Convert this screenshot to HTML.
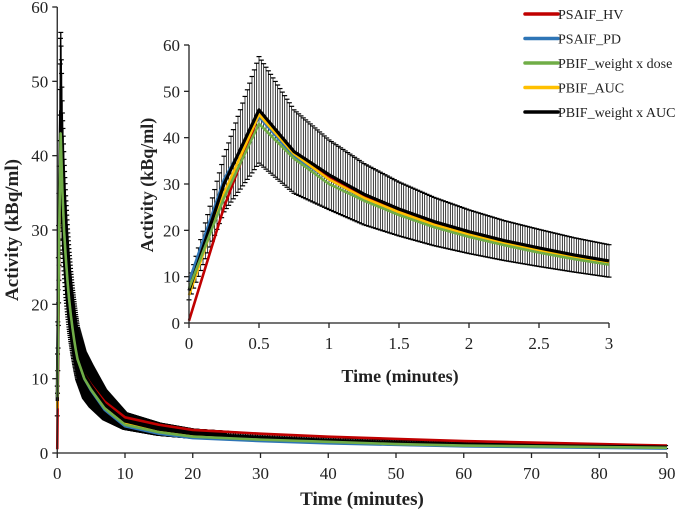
<!DOCTYPE html>
<html><head><meta charset="utf-8"><style>
html,body{margin:0;padding:0;background:#fff;}
svg text{font-family:"Liberation Serif",serif;fill:#222;}
</style></head><body>
<svg id="c" width="685" height="513" viewBox="0 0 685 513" xmlns="http://www.w3.org/2000/svg"></svg>
<script>
// ---- data ----
const mainTimes = [0,0.25,0.5,0.75,1,1.25,1.5,1.75,2,2.25,2.5,2.75,3,4,5,7,10,15,20,30,40,50,60,70,80,90];
const mainBlack = [7,30,46,37,32,27.8,24.6,21.9,19.7,17.8,16.2,14.7,13.4,10.5,9,6.5,4.3,3.2,2.6,2.1,1.7,1.4,1.2,1.0,0.9,0.8];
const mainRed   = [0.5,25,45,36.7,31.6,27.4,24.2,21.5,19.4,17.6,16,14.5,13.2,10.6,9.2,6.9,4.8,3.8,3.1,2.6,2.2,1.9,1.6,1.4,1.2,1.0];
const mainBlue  = [9,31,44.5,36,31,26.9,23.7,21,18.9,17,15.5,14,12.8,10,8.4,5.8,3.6,2.6,2.0,1.6,1.3,1.1,0.9,0.8,0.7,0.6];
const mainGreen = [7.5,27,43,35.5,30,26.4,23.3,20.7,18.6,16.8,15.2,13.8,12.6,10,8.5,6,3.8,2.8,2.2,1.8,1.5,1.2,1.0,0.9,0.8,0.7];
const mainYellow= [6,28,45,36.5,31,27,23.9,21.2,19.1,17.3,15.7,14.3,13,10.2,8.7,6.2,4.0,3.0,2.4,1.9,1.6,1.3,1.1,1.0,0.85,0.75];
const mainSD    = [2,6,11.5,9,7.5,6.6,5.8,5.2,4.7,4.3,4,3.7,3.5,3.1,2.8,2,1.1,0.8,0.6,0.5,0.4,0.35,0.3,0.25,0.22,0.2];
const xTicksMain = [0,10,20,30,40,50,60,70,80,90];
const yTicksMain = [0,10,20,30,40,50,60];
const xTicksInset = [0,0.5,1,1.5,2,2.5,3];
const yTicksInset = [0,10,20,30,40,50,60];
const seriesNames = ["PSAIF_HV","PSAIF_PD","PBIF_weight x dose","PBIF_AUC","PBIF_weight x AUC"];
const seriesColors = ["#c00000","#2e75b6","#70ad47","#ffc000","#000000"];

const svg = document.getElementById('c');
const NS = 'http://www.w3.org/2000/svg';
function mk(tag, attrs, parent){const e=document.createElementNS(NS,tag);for(const k in attrs)e.setAttribute(k,attrs[k]);(parent||svg).appendChild(e);return e;}
function interp(ts, vs, t){for(let i=0;i<ts.length-1;i++){if(t<=ts[i+1]){const f=(t-ts[i])/(ts[i+1]-ts[i]);return vs[i]+f*(vs[i+1]-vs[i]);}}return vs[vs.length-1];}

// ---- axes functions ----
const MX0=57.25, MX1=667, MY0=453, MY1=7;
const mx = t => MX0 + t/90*(MX1-MX0);
const my = v => MY0 - v/60*(MY0-MY1);
const IX0=189, IX1=609, IY0=323, IY1=45;
const ix = t => IX0 + t/3*(IX1-IX0);
const iy = v => IY0 - v/60*(IY0-IY1);

function drawPanel(xf, yf, xmax, stepFn, xTicks, yTicks, name, sw, capW){
  const g = mk('g',{});
  
  
  const eb = mk('g',{stroke:'#000','stroke-width':sw,fill:'none'},g);
  
  
  for(let t=0;t<=xmax+1e-9;t+=stepFn(t)){
    const m=interp(mainTimes,mainBlack,t), s=interp(mainTimes,mainSD,t);
    const x=xf(t), yt=yf(Math.min(60,m+s)), yb=yf(Math.max(0,m-s));
    mk('line',{x1:x,x2:x,y1:yt,y2:yb},eb);
    mk('line',{x1:x-capW,x2:x+capW,y1:yt,y2:yt,'stroke-width':1.2},eb);
    mk('line',{x1:x-capW,x2:x+capW,y1:yb,y2:yb,'stroke-width':1.2},eb);
  }
  const sets=[mainRed,mainBlue,mainYellow,mainBlack,mainGreen];
  const idx=[0,1,3,4,2];
  sets.forEach((vals,k)=>{
    let d='';
    mainTimes.forEach((t,i)=>{if(t<=xmax+1e-9)d+=(d?'L':'M')+xf(t).toFixed(2)+','+yf(vals[i]).toFixed(2);});
    const p=mk('path',{d:d,fill:'none',stroke:seriesColors[idx[k]],'stroke-width':idx[k]==4?3.2:2.6,'stroke-linejoin':'round'},g);
    
    
  });
  const ax=mk('g',{stroke:'#222','stroke-width':1.3},g);
  
  
  mk('line',{x1:xf(0),x2:xf(0),y1:yf(0),y2:yf(60)},ax);
  mk('line',{x1:xf(0),x2:xf(xmax),y1:yf(0),y2:yf(0)},ax);
  xTicks.forEach(t=>{
    mk('line',{x1:xf(t),x2:xf(t),y1:yf(0),y2:yf(0)+5},ax);
    const tx=mk('text',{x:xf(t),y:yf(0)+26,'text-anchor':'middle','font-size':17},g);
    tx.textContent=t;
    
    
  });
  yTicks.forEach(v=>{
    mk('line',{x1:xf(0)-5,x2:xf(0),y1:yf(v),y2:yf(v)},ax);
    const tx=mk('text',{x:xf(0)-9,y:yf(v)+6,'text-anchor':'end','font-size':17},g);
    tx.textContent=v;
    
    
  });
}

drawPanel(mx,my,90,t=>t<25?0.04:0.25,xTicksMain,yTicksMain,'main-plot',1.3,2.5);
const bg=mk('rect',{x:140,y:30,width:480,height:360,fill:'#fff'});


drawPanel(ix,iy,3,t=>1/60,xTicksInset,yTicksInset,'inset-plot',0.75,2.5);

function txt(s,attrs,name){const t=mk('text',attrs);t.textContent=s;return t;}
txt('Time (minutes)',{x:362,y:505,'text-anchor':'middle','font-size':19,'font-weight':'bold'},'main-x-axis-title');
txt('Activity (kBq/ml)',{x:18,y:230,'text-anchor':'middle','font-size':19,'font-weight':'bold',transform:'rotate(-90 18 230)'},'main-y-axis-title');
txt('Time (minutes)',{x:400,y:382,'text-anchor':'middle','font-size':18,'font-weight':'bold'},'inset-x-axis-title');
txt('Activity (kBq/ml)',{x:153,y:185,'text-anchor':'middle','font-size':18,'font-weight':'bold',transform:'rotate(-90 153 185)'},'inset-y-axis-title');

const lg=mk('g',{});


seriesNames.forEach((n,i)=>{
  const y=14+i*24.5;
  const e=mk('g',{},lg);
  
  
  mk('line',{x1:525,x2:558,y1:y,y2:y,stroke:seriesColors[i],'stroke-width':3.5,'stroke-linecap':'round'},e);
  const t=mk('text',{x:558,y:y+5,'font-size':14},e);
  t.textContent=n;
});
</script>
</body></html>
